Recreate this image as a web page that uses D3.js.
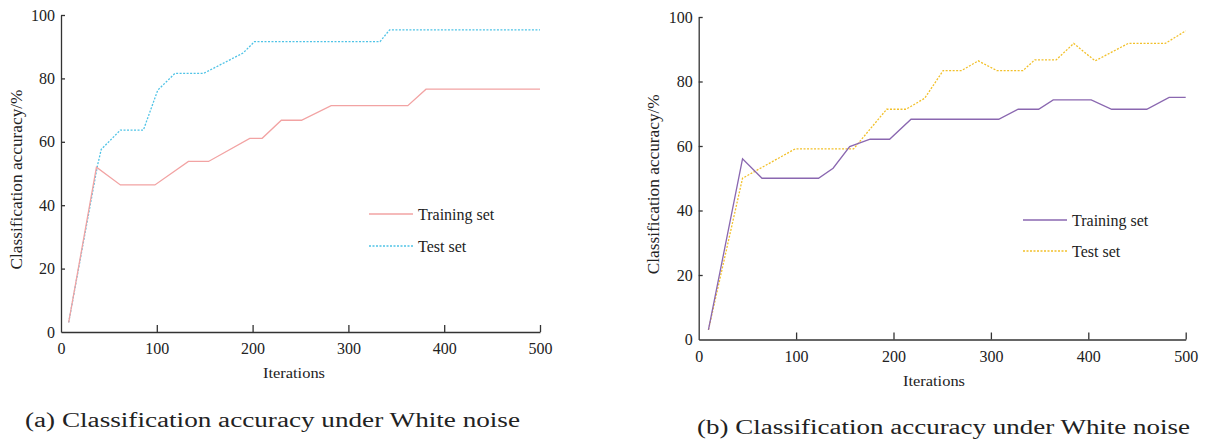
<!DOCTYPE html>
<html>
<head>
<meta charset="utf-8">
<script src="https://cdn.jsdelivr.net/npm/d3@7"></script>
<style>
  body { margin: 0; background: #fff; }
  svg { display: block; }
  text { font-family: "Liberation Serif", "Times New Roman", serif; fill: #222; }
</style>
</head>
<body>
<div id="chart"></div>
<script>
// ---- data (iterations, accuracy %) ----
const xTicks = [0, 100, 200, 300, 400, 500]
const yTicks = [0, 20, 40, 60, 80, 100]
const legendLabels = ["Training set", "Test set"]

// panel (a)
const trainA = [[8, 3], [37, 52], [62, 46.4], [98, 46.4], [133, 53.8], [154, 53.8], [197, 61.1], [210, 61.1],
  [230, 66.8], [251, 66.8], [282, 71.4], [362, 71.4], [381, 76.6], [500, 76.6]]
const testA = [[8, 3], [38, 52.4], [42, 57.6], [62, 63.7], [86, 63.7], [101, 76.3], [119, 81.6], [149, 81.6],
  [190, 88], [202, 91.6], [333, 91.6], [343, 95.3], [500, 95.3]]

// panel (b)
const trainB = [[10, 3], [45, 56], [65, 50], [123, 50], [138, 53.1], [155, 59.8], [176, 62.1], [196, 62.1],
  [218, 68.3], [308, 68.3], [328, 71.4], [349, 71.4], [364, 74.3], [403, 74.3], [424, 71.4], [460, 71.4],
  [483, 75.1], [500, 75.1]]
const testB = [[10, 3], [45, 50], [99, 59.1], [159, 59.1], [193, 71.4], [213, 71.4], [232, 74.8], [251, 83.4],
  [270, 83.4], [287, 86.4], [306, 83.4], [333, 83.4], [345, 86.7], [367, 86.7], [385, 91.8], [407, 86.4],
  [441, 91.8], [479, 91.8], [500, 95.7]]

const width = 1205
const height = 439

const svg = d3.select("#chart").append("svg")
  .attr("width", width)
  .attr("height", height)
  .attr("viewBox", [0, 0, width, height])

function drawPanel({x0, x1, y0, y1, train, test, trainColor, testColor, yLabelX, xLabelX, xLabelY,
                    legendX, legendY, legendGap, caption, captionX, captionW, captionY}) {
  const x = d3.scaleLinear().domain([0, 500]).range([x0, x1])
  const y = d3.scaleLinear().domain([0, 100]).range([y0, y1])
  const g = svg.append("g")

  // axes, ticks pointing inward
  g.append("g")
    .attr("transform", `translate(0,${y0})`)
    .call(d3.axisBottom(x).tickValues(xTicks).tickSize(-7).tickPadding(11).tickSizeOuter(0))
    .call(a => a.selectAll("text").attr("font-size", "16px").attr("fill", "#222")
      .attr("font-family", "Liberation Serif"))
  g.append("g")
    .attr("transform", `translate(${x0},0)`)
    .call(d3.axisLeft(y).tickValues(yTicks).tickSize(-4).tickPadding(6).tickSizeOuter(0))
    .call(a => a.selectAll("text").attr("font-size", "16px").attr("fill", "#222")
      .attr("font-family", "Liberation Serif"))
  g.selectAll(".domain, .tick line").attr("stroke", "#333").attr("stroke-width", 1.3)
  g.selectAll(".tick").filter(d => d === 0).select("line").remove()

  const line = d3.line().x(d => x(d[0])).y(d => y(d[1]))

  g.append("path").datum(test)
    .attr("d", line)
    .attr("fill", "none")
    .attr("stroke", testColor)
    .attr("stroke-width", 1.3)
    .attr("stroke-dasharray", "2,1.5")
  g.append("path").datum(train)
    .attr("d", line)
    .attr("fill", "none")
    .attr("stroke", trainColor)
    .attr("stroke-width", 1.3)

  // axis titles
  g.append("text")
    .attr("x", xLabelX).attr("y", xLabelY)
    .attr("text-anchor", "middle")
    .attr("font-size", "15px")
    .attr("textLength", 62)
    .attr("lengthAdjust", "spacingAndGlyphs")
    .text("Iterations")
  g.append("text")
    .attr("transform", `translate(${yLabelX},${(y0 + y1) / 2 + 6}) rotate(-90)`)
    .attr("text-anchor", "middle")
    .attr("font-size", "16px")
    .attr("textLength", 180)
    .attr("lengthAdjust", "spacingAndGlyphs")
    .text("Classification accuracy/%")

  // legend
  const legend = g.append("g")
  legendLabels.forEach((label, i) => {
    const ly = legendY + i * legendGap
    legend.append("line")
      .attr("x1", legendX).attr("x2", legendX + 44)
      .attr("y1", ly).attr("y2", ly)
      .attr("stroke", i === 0 ? trainColor : testColor)
      .attr("stroke-width", 1.3)
      .attr("stroke-dasharray", i === 0 ? null : "2,1.5")
    legend.append("text")
      .attr("x", legendX + 49).attr("y", ly + 6)
      .attr("font-size", "16px")
      .text(label)
  })

  g.append("text")
    .attr("x", captionX).attr("y", captionY)
    .attr("font-size", "20px")
    .attr("textLength", captionW)
    .attr("lengthAdjust", "spacingAndGlyphs")
    .text(caption)
}

drawPanel({
  x0: 61, x1: 540, y0: 332, y1: 15,
  train: trainA, test: testA,
  trainColor: "#f2a3a3", testColor: "#4fc3e6",
  yLabelX: 22, xLabelX: 294, xLabelY: 378,
  legendX: 369, legendY: 214, legendGap: 32,
  caption: "(a) Classification accuracy under White noise", captionX: 25, captionW: 495, captionY: 427
})

drawPanel({
  x0: 698.7, x1: 1185.7, y0: 339.5, y1: 17,
  train: trainB, test: testB,
  trainColor: "#8a67b0", testColor: "#f2c02a",
  yLabelX: 659, xLabelX: 934, xLabelY: 386,
  legendX: 1023, legendY: 220, legendGap: 31,
  caption: "(b) Classification accuracy under White noise", captionX: 697, captionW: 493, captionY: 434
})
</script>
</body>
</html>
